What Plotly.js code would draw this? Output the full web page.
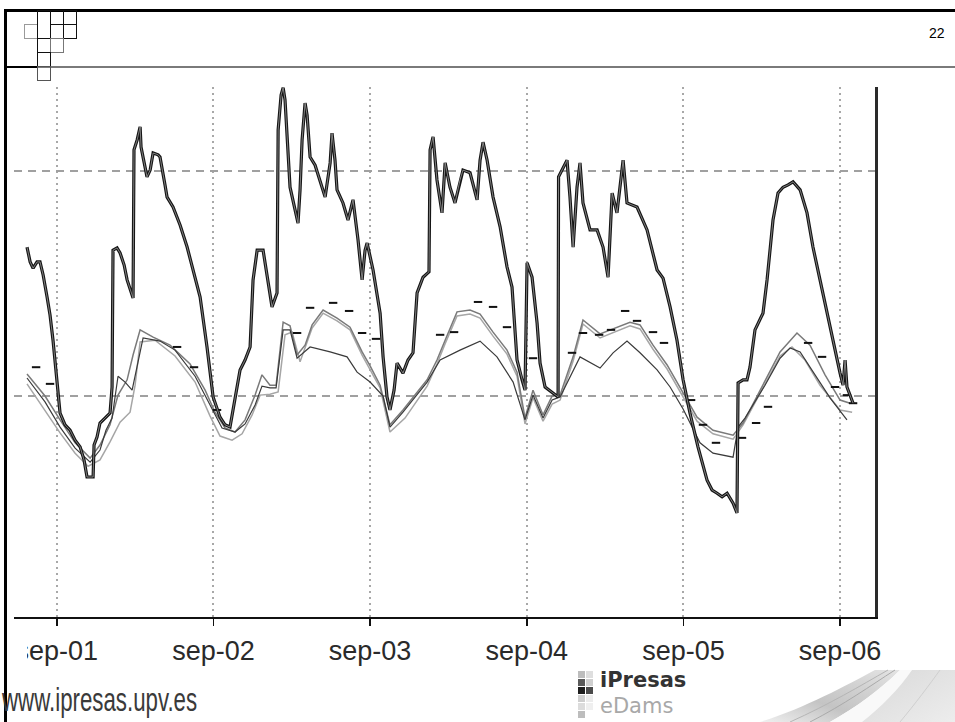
<!DOCTYPE html>
<html>
<head>
<meta charset="utf-8">
<script src="https://cdn.plot.ly/plotly-3.0.1.min.js"></script>
<style>
  html, body { margin:0; padding:0; background:#fff; }
  #stage { position:relative; width:955px; height:722px; overflow:hidden; background:#fff; }
  #chart { position:absolute; left:0; top:0; width:955px; height:722px; }
  .deco { position:absolute; }
  .box { position:absolute; box-sizing:border-box; border:1px solid #111; }
  .sq { position:absolute; width:7px; height:7px; }
</style>
</head>
<body>
<div id="stage">
  <div id="chart"></div>
</div>
<script>
// ---------------- DATA ----------------
// x values: decimal years; y values: arbitrary level units
const tickYears  = [2001.667, 2002.667, 2003.667, 2004.667, 2005.667, 2006.667];
const tickLabels = ['sep-01', 'sep-02', 'sep-03', 'sep-04', 'sep-05', 'sep-06'];
const gridValues = [50, 100];

// observed series (thick black)
const obsYears = [2001.477,2001.497,2001.516,2001.541,2001.560,2001.580,2001.605,2001.624,2001.643,2001.669,
  2001.688,2001.720,2001.752,2001.784,2001.816,2001.841,2001.860,2001.899,2001.905,2001.924,
  2001.943,2001.975,2002.007,2002.020,2002.026,2002.052,2002.071,2002.097,2002.116,2002.154,
  2002.160,2002.180,2002.199,2002.205,2002.218,2002.243,2002.263,2002.282,2002.314,2002.326,
  2002.358,2002.371,2002.409,2002.454,2002.499,2002.537,2002.582,2002.626,2002.665,2002.709,
  2002.741,2002.773,2002.805,2002.837,2002.869,2002.901,2002.920,2002.946,2002.984,2003.009,
  2003.041,2003.073,2003.080,2003.099,2003.112,2003.124,2003.137,2003.156,2003.207,2003.220,
  2003.233,2003.252,2003.265,2003.284,2003.316,2003.348,2003.380,2003.412,2003.424,2003.443,
  2003.456,2003.494,2003.526,2003.558,2003.590,2003.616,2003.635,2003.648,2003.686,2003.731,
  2003.750,2003.775,2003.794,2003.820,2003.839,2003.877,2003.909,2003.941,2003.967,2004.005,
  2004.043,2004.050,2004.069,2004.094,2004.126,2004.146,2004.177,2004.209,2004.241,2004.260,
  2004.305,2004.350,2004.369,2004.388,2004.414,2004.452,2004.497,2004.541,2004.573,2004.605,
  2004.637,2004.656,2004.669,2004.701,2004.733,2004.752,2004.784,2004.835,2004.867,2004.870,
  2004.924,2004.943,2004.963,2004.988,2005.007,2005.026,2005.071,2005.116,2005.154,2005.186,
  2005.212,2005.243,2005.269,2005.282,2005.307,2005.371,2005.435,2005.499,2005.537,2005.582,
  2005.626,2005.665,2005.709,2005.760,2005.818,2005.850,2005.882,2005.914,2005.946,2005.984,
  2006.009,2006.016,2006.048,2006.073,2006.092,2006.124,2006.175,2006.201,2006.239,2006.271,
  2006.303,2006.335,2006.367,2006.412,2006.456,2006.494,2006.539,2006.584,2006.622,2006.667,
  2006.686,2006.699,2006.711,2006.731,2006.750];
const obsValues = [83.1,79.8,78.4,79.8,79.8,76.9,72.0,68.0,62.4,53.6,
  46.2,43.6,42.4,40.2,38.7,35.8,32.0,32.0,39.1,40.9,
  44.0,45.1,46.2,52.0,82.4,82.9,81.8,79.1,75.8,71.8,
  104.7,106.9,109.8,105.3,103.1,98.7,100.2,104.0,103.6,103.1,
  96.9,94.2,92.0,88.0,83.1,78.0,72.0,60.9,49.8,45.3,
  43.6,43.1,49.1,55.8,58.0,60.9,75.8,82.4,82.4,76.4,
  69.8,72.9,109.1,116.9,118.5,115.8,108.4,96.4,88.4,95.8,
  106.9,115.1,112.4,103.1,101.3,98.0,94.2,101.8,108.4,102.4,
  95.8,92.9,89.1,93.6,84.7,75.8,82.4,84.0,78.0,68.4,
  58.7,49.8,46.9,51.3,57.3,55.1,58.0,59.6,72.9,76.4,
  77.6,104.7,107.6,98.0,90.7,101.8,96.4,92.9,98.0,100.2,
  99.6,93.6,102.4,106.4,102.4,94.2,87.6,78.7,74.2,58.0,
  53.6,51.3,79.6,76.4,66.2,57.3,52.0,50.7,49.8,98.7,
  102.4,94.2,83.1,96.4,101.8,92.9,86.9,86.9,83.1,76.4,
  95.1,90.7,99.1,102.4,92.9,92.0,86.9,78.0,76.2,69.8,
  62.4,53.6,46.2,38.7,31.3,29.1,28.4,27.6,28.4,26.2,
  24.0,52.9,53.6,53.6,56.4,64.7,68.4,75.8,89.1,95.1,
  96.4,96.9,97.6,95.8,90.7,83.1,75.8,68.4,61.8,55.1,
  52.4,58.0,52.0,50.2,48.4];

// simulated series 1 (medium grey)
const sim1Years = [2001.477,2001.592,2001.688,2001.784,2001.880,2001.943,2002.007,2002.058,2002.116,2002.154,
  2002.199,2002.282,2002.390,2002.518,2002.614,2002.677,2002.741,2002.805,2002.869,2002.933,
  2002.977,2003.028,2003.067,2003.112,2003.156,2003.201,2003.252,2003.297,2003.367,2003.456,
  2003.539,2003.616,2003.667,2003.731,2003.794,2003.877,2004.031,2004.094,2004.146,2004.222,
  2004.305,2004.369,2004.452,2004.541,2004.605,2004.656,2004.707,2004.771,2004.829,2004.880,
  2004.963,2005.026,2005.135,2005.231,2005.326,2005.390,2005.473,2005.563,2005.690,2005.754,
  2005.856,2005.984,2006.048,2006.156,2006.284,2006.392,2006.475,2006.571,2006.667,2006.731];
const sim1Values = [54.9,50.0,44.7,39.6,36.2,39.1,43.6,50.2,53.6,59.1,
  64.7,63.1,61.3,57.1,51.3,46.4,42.9,42.0,44.7,50.2,
  54.7,52.4,52.4,66.4,65.6,59.1,61.3,65.8,69.1,67.3,
  65.3,59.8,56.7,52.4,43.6,46.9,53.6,58.0,62.4,68.7,
  69.1,68.2,64.2,60.2,55.3,45.1,51.3,45.8,50.0,50.2,
  58.7,66.9,63.8,65.1,66.4,65.8,61.3,56.9,49.1,45.3,
  42.4,41.3,44.0,51.3,59.8,64.0,61.3,54.7,49.1,48.4];

// simulated series 2 (dark grey)
const sim2Years = [2001.477,2001.592,2001.688,2001.784,2001.880,2001.943,2001.981,2002.020,2002.058,2002.103,
  2002.148,2002.180,2002.218,2002.326,2002.422,2002.550,2002.645,2002.722,2002.805,2002.869,
  2002.933,2002.977,2003.028,2003.067,2003.112,2003.156,2003.201,2003.284,2003.412,2003.520,
  2003.584,2003.667,2003.750,2003.794,2003.877,2004.031,2004.114,2004.241,2004.369,2004.477,
  2004.580,2004.656,2004.707,2004.771,2004.829,2004.880,2005.007,2005.135,2005.218,2005.307,
  2005.390,2005.499,2005.582,2005.665,2005.773,2005.856,2005.984,2006.016,2006.060,2006.188,
  2006.284,2006.348,2006.412,2006.507,2006.603,2006.711];
const sim2Values = [54.0,48.7,43.1,38.4,35.3,38.0,42.4,45.1,54.4,53.1,
  51.3,56.9,62.9,62.2,60.2,54.4,48.0,42.9,42.0,43.8,
  48.0,52.2,51.8,51.8,64.7,64.7,58.4,60.9,59.8,58.7,
  55.3,53.1,50.0,43.1,46.4,53.1,58.0,60.2,62.2,58.7,
  53.1,44.7,50.2,45.1,49.1,49.8,58.7,56.2,59.6,62.2,
  59.6,55.8,52.0,47.1,39.6,37.3,36.4,43.1,45.1,52.4,
  58.4,60.7,59.8,54.7,49.6,44.7];

// simulated series 3 (light grey)
const sim3Years = [2001.477,2001.592,2001.688,2001.784,2001.867,2001.943,2002.007,2002.071,2002.135,2002.167,
  2002.199,2002.294,2002.422,2002.550,2002.645,2002.709,2002.786,2002.850,2002.914,2002.965,
  2003.028,2003.080,2003.124,2003.169,2003.220,2003.297,2003.367,2003.456,2003.539,2003.616,
  2003.667,2003.731,2003.794,2003.890,2004.031,2004.094,2004.146,2004.222,2004.305,2004.369,
  2004.452,2004.541,2004.605,2004.656,2004.707,2004.771,2004.829,2004.880,2004.963,2005.026,
  2005.135,2005.231,2005.326,2005.390,2005.473,2005.563,2005.690,2005.754,2005.856,2005.984,
  2006.048,2006.156,2006.284,2006.360,2006.443,2006.539,2006.667,2006.744];
const sim3Values = [52.7,46.9,41.8,37.3,34.4,35.8,39.8,44.2,46.4,52.4,
  62.0,62.4,58.9,53.1,45.6,41.1,40.2,41.6,45.8,50.2,
  50.4,50.9,63.6,64.2,57.6,65.1,68.4,66.7,64.7,59.1,
  56.0,51.8,42.0,45.1,52.2,57.1,61.6,67.8,68.2,67.3,
  63.3,59.3,54.4,43.8,49.6,44.4,48.2,49.1,57.8,66.0,
  62.9,64.2,65.6,64.9,60.4,56.0,48.2,44.4,41.6,40.4,
  43.6,50.7,58.9,60.9,58.0,52.4,46.9,46.4];

// dash markers
const markYears = [2001.535,2001.624,2002.435,2002.543,2002.690,2003.201,2003.284,2003.431,2003.533,2003.616,
  2003.705,2004.114,2004.203,2004.356,2004.452,2004.541,2004.707,2004.956,2005.026,2005.129,
  2005.205,2005.295,2005.371,2005.473,2005.543,2005.716,2005.792,2005.875,2006.041,2006.131,
  2006.207,2006.463,2006.552,2006.635,2006.711,2006.750];
const markValues = [56.4,52.7,60.9,56.4,46.9,64.0,69.6,70.7,68.9,64.0,
  62.7,63.6,64.2,70.9,69.8,65.3,58.4,59.6,64.0,63.6,
  64.7,68.9,66.7,64.2,61.8,49.1,43.6,39.6,40.7,44.0,
  47.6,61.8,58.7,52.0,50.2,48.4];

// ---------------- CHART ----------------
const traces = [
  {x: sim3Years, y: sim3Values, mode:'lines', line:{color:'#a6a6a6', width:1.5}, hoverinfo:'skip'},
  {x: sim1Years, y: sim1Values, mode:'lines', line:{color:'#7a7a7a', width:1.5}, hoverinfo:'skip'},
  {x: sim2Years, y: sim2Values, mode:'lines', line:{color:'#3a3a3a', width:1.2}, hoverinfo:'skip'},
  {x: markYears, y: markValues, mode:'markers',
   marker:{symbol:'line-ew', size:6, line:{color:'#111', width:2}}, hoverinfo:'skip'},
  {x: obsYears, y: obsValues, mode:'lines', line:{color:'#151515', width:3.2}, hoverinfo:'skip'},
  {x: obsYears, y: obsValues, mode:'lines', line:{color:'#999999', width:0.8}, hoverinfo:'skip'}
];

const layout = {
  width:955, height:722,
  margin:{l:14, r:80, t:87, b:105, pad:0},
  paper_bgcolor:'rgba(0,0,0,0)', plot_bgcolor:'rgba(0,0,0,0)',
  showlegend:false,
  xaxis:{
    range:[2001.394, 2006.890], type:'linear',
    tickmode:'array', tickvals: tickYears, ticktext: tickLabels,
    ticks:'outside', ticklen:7, tickwidth:1.5, tickcolor:'#111',
    showline:true, linecolor:'#111', linewidth:1.5,
    showgrid:true, gridcolor:'#a8a8a8', gridwidth:2, griddash:'2px,4px',
    zeroline:false, ticklabelstandoff:2,
    tickfont:{family:'Liberation Sans, Arial, sans-serif', size:27, color:'#2a2a2a'}
  },
  yaxis:{
    range:[0.89, 118.67], side:'right',
    tickmode:'array', tickvals: gridValues,
    showticklabels:false, ticks:'',
    showline:true, linecolor:'#2a2a2a', linewidth:2.5,
    showgrid:true, gridcolor:'#a0a0a0', gridwidth:1.5, griddash:'8px,6px',
    zeroline:false
  }
};

Plotly.newPlot('chart', traces, layout, {staticPlot:true, displayModeBar:false});

// ---------------- SLIDE DECORATION ----------------
const stage = document.getElementById('stage');
function addDiv(css, html) {
  const d = document.createElement('div');
  d.className = 'deco';
  d.style.cssText = css;
  if (html) d.innerHTML = html;
  stage.appendChild(d);
  return d;
}
// the chart picture is cropped at its left edge
addDiv('left:7px;top:628px;width:20px;height:44px;background:#fff;');
// frame
addDiv('left:4px;top:9px;width:951px;height:3px;background:#000;');
addDiv('left:4px;top:9px;width:3px;height:713px;background:#000;');
addDiv('left:4px;top:66px;width:34px;height:2px;background:#000;');
addDiv('left:38px;top:66px;width:917px;height:2px;background:#7a7a7a;');
// logo grid
const boxes = [
  [24,24,13,14,'#9a9a9a'], [37,10,13,28,'#111'], [50,10,13,14,'#111'], [63,10,13,14,'#111'],
  [50,24,13,14,'#111'], [63,24,13,14,'#111'], [37,38,13,14,'#111'], [50,38,13,14,'#777'],
  [37,52,13,14,'#111'], [37,66,13,14,'#555']
];
boxes.forEach(b => {
  const d = document.createElement('div');
  d.className = 'box';
  d.style.cssText = `left:${b[0]}px;top:${b[1]}px;width:${b[2]+1}px;height:${b[3]+1}px;border-color:${b[4]};`;
  stage.appendChild(d);
});
// page number
addDiv('left:929px;top:25px;font:14px "Liberation Sans",Arial,sans-serif;color:#000;', '22');
// footer url
addDiv('left:2px;top:680px;font:34px "Liberation Sans",Arial,sans-serif;color:#3a3a3a;white-space:nowrap;transform-origin:0 0;transform:scaleX(0.655);', 'www.ipresas.upv.es');
// iPresas logo squares
const sqCols = [578, 586];
const sqRows = [671, 679, 687, 695, 703, 711];
const sqColors = [['#bdbdbd','#dedede'],['#5a5a5a','#cfcfcf'],['#1e1e1e','#4a4a4a'],['#cfcfcf','#ececec'],['#dcdcdc','#efefef'],['#bdbdbd',null]];
sqRows.forEach((y,i) => sqCols.forEach((x,j) => {
  if (!sqColors[i][j]) return;
  const d = document.createElement('div');
  d.className = 'sq';
  d.style.cssText = `left:${x}px;top:${y}px;background:${sqColors[i][j]};`;
  stage.appendChild(d);
}));
addDiv('left:600px;top:668px;font:bold 21px "DejaVu Sans",sans-serif;color:#333;', 'iPresas');
addDiv('left:600px;top:694px;font:21px "DejaVu Sans",sans-serif;color:#a8a8a8;', 'eDams');
// swoosh
addDiv('left:750px;top:664px;width:205px;height:58px;',
 `<svg width="205" height="58" viewBox="0 0 205 58">
   <defs>
    <linearGradient id="sw1" x1="0" y1="1" x2="1" y2="0">
      <stop offset="0" stop-color="#f0f0f0"/><stop offset="0.4" stop-color="#c4c4c4"/>
      <stop offset="0.7" stop-color="#d2d2d2"/><stop offset="1" stop-color="#e4e4e4"/>
    </linearGradient>
    <linearGradient id="sw2" x1="0" y1="0" x2="1" y2="1">
      <stop offset="0" stop-color="#d8d8d8"/><stop offset="1" stop-color="#ededed"/>
    </linearGradient>
   </defs>
   <path d="M10,58 C55,44 95,22 125,6 L150,6 C130,26 105,44 80,58 Z" fill="url(#sw1)"/>
   <path d="M80,58 C105,44 130,26 150,6 L162,6 C150,24 130,44 112,58 Z" fill="#f9f9f9"/>
   <path d="M112,58 C130,44 150,24 162,6 L205,6 L205,58 Z" fill="url(#sw2)"/>
   <path d="M40,58 C80,40 110,22 138,6" stroke="#b5b5b5" stroke-width="1" fill="none"/>
   <path d="M60,58 C95,40 120,22 145,6" stroke="#aaaaaa" stroke-width="1" fill="none"/>
   <path d="M150,58 C165,40 180,20 190,6" stroke="#cfcfcf" stroke-width="1" fill="none"/>
  </svg>`);
</script>
</body>
</html>
